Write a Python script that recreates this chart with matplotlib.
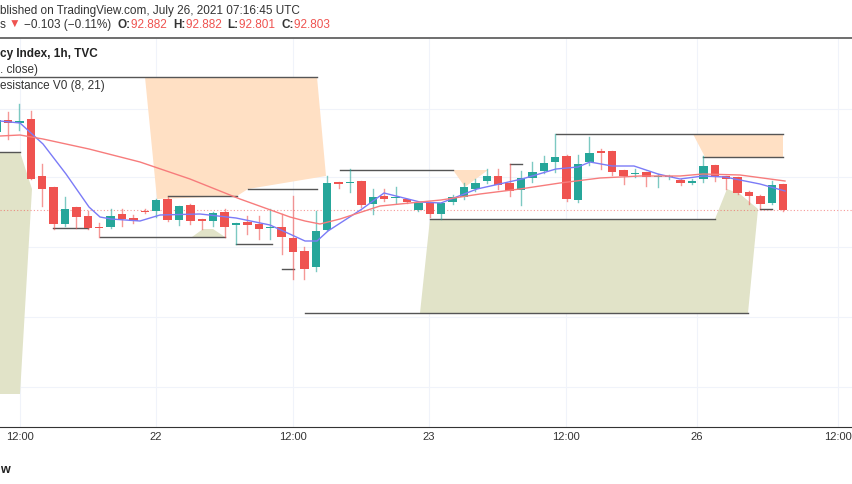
import matplotlib
matplotlib.use("Agg")
import matplotlib.pyplot as plt
import numpy as np
from matplotlib.patches import Polygon

plt.rcParams["font.family"] = "Liberation Sans"

# price scale: each reading below is the chart level (higher number = lower price)
def price(level):
    return 92.803 + (211 - np.asarray(level, dtype=float)) * 0.004

def bar(px):
    return (np.asarray(px, dtype=float) - 8) / 11.4

opens_l  = [133,121,124,120,177,188,225,208,217,228,228,215,219,212,212,200,221,206,220,222,
            213,226,223,225,229,228,239,252,268,231,183,184,182,205,197,199,200,211,203,215,
            203,198,190,182,177,184,191,179,172,163,157,201,163,152,152,171,175,173,178,178,
            181,184,180,166,177,178,193,197,204,185]
closes_l = [121,124,122,180,190,225,210,218,229,229,217,220,222,213,201,221,207,222,222,214,
            228,224,226,230,228,238,253,270,232,184,185,184,206,198,200,198,203,204,215,204,
            198,188,184,177,186,192,179,173,164,158,200,165,154,154,173,177,174,178,177,178,
            184,182,167,177,180,194,197,205,186,211]
highs_l  = [118,113,105,112,165,188,198,208,212,224,210,210,216,210,200,198,207,205,220,213,
            210,224,217,217,210,215,197,248,212,177,183,170,182,190,190,188,200,204,203,204,
            196,184,180,170,170,165,172,163,157,135,156,156,138,150,152,171,170,173,175,176,
            180,180,157,166,177,178,192,196,182,185]
lows_l   = [135,140,131,180,207,230,227,229,230,238,229,227,224,214,218,222,226,225,230,227,
            238,245,235,240,240,255,280,280,272,231,189,193,208,215,202,204,204,212,218,220,
            205,200,192,184,190,197,206,183,174,173,202,203,166,170,176,185,178,187,188,180,
            186,185,183,182,190,195,205,209,205,212]
idx = list(range(-1, -1 + len(opens_l)))

ema_fast_px = [0,20,43,66,89,100,111,140,160,200,236,270,305,317,328,362,384,420,441,477,522,556,578,590,612,634,658,680,703,725,760,785]
ema_fast_l = [122,124,145,175,208,218,220,222,216,215,219,226,242,242,232,210,194,203,204,190,180,170,168,163,167,167,175,180,177,178,185,192]
ema_slow_px = [0,20,43,89,140,190,240,290,305,320,340,380,420,441,480,520,560,600,640,680,703,740,785]
ema_slow_l = [137,136,140,150,163,180,200,218,222,225,220,207,203,201,195,190,184,179,177,177,175,176,182]

# support / resistance segments (x from, x to, level)
seg_x0 = [0,0,53,100,168,236,248,282,340,305,430,510,556,703,760]
seg_x1 = [317,20,88,225,237,272,317,294,453,748,715,522,783,783,772]
seg_lv = [78,153,229,238,197,245,190,270,171,314,220,165,135,158,210]

res_zones = [
    ([145,317,326,248,237,157],[78,78,177,190,197,200]),
    ([453,488,465],[171,171,188]),
    ([693,783,783,705],[135,135,158,158]),
]
sup_zones = [
    ([0,20,32,20,0],[153,153,190,395,395]),
    ([192,203,213,225],[238,230,230,238]),
    ([420,430,715,727,740,758,748],[314,220,220,190,195,210,314]),
]

time_px = [20,156,293,429,566,697,838]
time_labels = ["12:00","22","12:00","23","12:00","26","12:00"]

fig = plt.figure(figsize=(8.52,4.85), dpi=100)
ax = fig.add_axes([0, 57/485, 1, 388/485])
ax.set_xlim(bar(0), bar(852))
ax.set_ylim(price(428), price(40))

for g in [110,178,248,318,388]:
    ax.axhline(price(g), color="#f0f3fa", lw=0.8, zorder=0)
for t in time_px:
    ax.axvline(bar(t), color="#f0f3fa", lw=0.8, zorder=0)

for xs, ys in res_zones:
    ax.add_patch(Polygon(np.column_stack([bar(xs), price(ys)]), closed=True, fc="#ffe0c4", ec="none", zorder=1))
for xs, ys in sup_zones:
    ax.add_patch(Polygon(np.column_stack([bar(xs), price(ys)]), closed=True, fc="#e1e3c8", ec="none", zorder=1))
for a, b, l in zip(seg_x0, seg_x1, seg_lv):
    ax.plot([bar(a), bar(b)], [price(l)]*2, color="#555555", lw=1.0, zorder=2)

ax.axhline(price(211), color="#ef5350", lw=0.8, ls=(0,(1,2)), alpha=0.6, zorder=2)

O, C, H, L = price(opens_l), price(closes_l), price(highs_l), price(lows_l)
for i, o, c, h, l in zip(idx, O, C, H, L):
    col = "#26a69a" if c >= o else "#ef5350"
    ax.plot([i, i], [l, h], color=col, lw=1, alpha=0.6, zorder=3)
    lo, hi = min(o, c), max(o, c)
    ax.add_patch(plt.Rectangle((i-0.36, lo), 0.72, max(hi-lo, 0.004), fc=col, ec="none", zorder=4))

ax.plot(bar(ema_fast_px), price(ema_fast_l), color="#7b7bf7", lw=1, zorder=5)
ax.plot(bar(ema_slow_px), price(ema_slow_l), color="#f77c7c", lw=1, zorder=5)

ax.set_xticks([])
ax.set_yticks([])
for s in ["top","left","right"]:
    ax.spines[s].set_visible(False)
ax.spines["bottom"].set_color("#333333")

for t, lab in zip(time_px, time_labels):
    fig.text(t/852, 1-437/485, lab, ha="center", va="center", fontsize=8, color="#333333")

fig.add_artist(plt.Line2D([0,1],[1-39/485]*2, color="#555555", lw=1.2))
fig.text(0, 1-11/485, "blished on TradingView.com, July 26, 2021 07:16:45 UTC", fontsize=8.5, va="center", color="#333333")

renderer = fig.canvas.get_renderer()
def chain(x, y, s, color="#333333", weight="normal", gap=0):
    t = fig.text(x/852, 1-y/485, s, fontsize=8.5, va="center", color=color, fontweight=weight)
    bb = t.get_window_extent(renderer)
    return bb.x1 + gap

x = chain(0, 25, "s ", color="#333333")
x = chain(x, 25, "▼ ", color="#ef5350")
x = chain(x, 25, "−0.103 (−0.11%)  ")
for lab, val in [("O:","92.882"),("H:","92.882"),("L:","92.801"),("C:","92.803")]:
    x = chain(x, 25, lab, weight="bold")
    x = chain(x, 25, val + "  ", color="#ef5350")

fig.text(0, 1-54/485, "cy Index, 1h, TVC", fontsize=8.5, va="center", fontweight="bold", color="#222222")
fig.text(0, 1-70/485, ". close)", fontsize=8.5, va="center", color="#333333")
fig.text(0, 1-86/485, "esistance V0 (8, 21)", fontsize=8.5, va="center", color="#333333")
fig.text(0, 1-470/485, "w", fontsize=9, va="center", fontweight="bold", color="#222222")

fig.savefig("out.png", dpi=100)
